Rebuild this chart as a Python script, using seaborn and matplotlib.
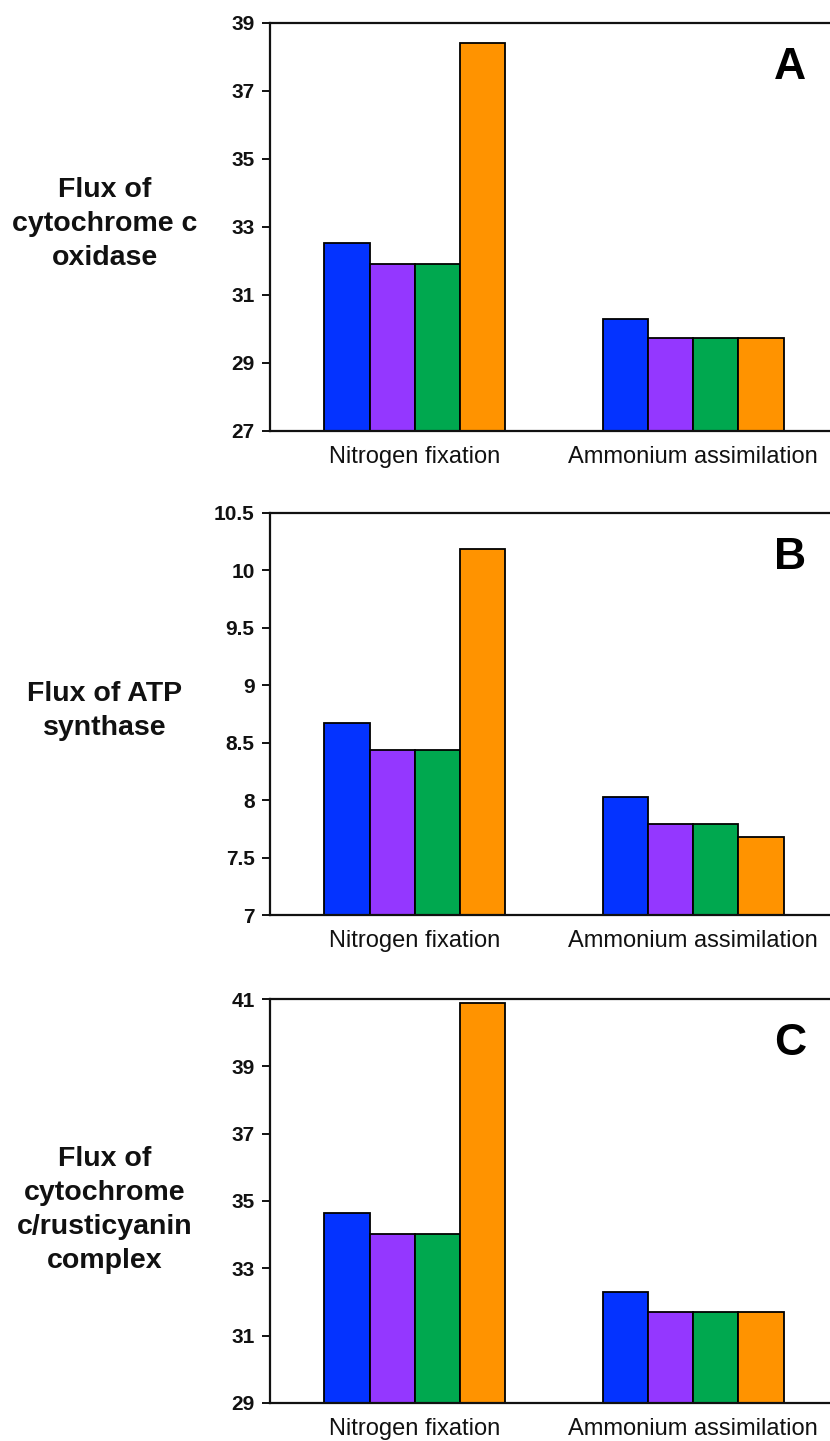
"""Flux comparison bar panels (A, B, C) for nitrogen fixation vs ammonium assimilation."""

import matplotlib

matplotlib.use("Agg")
import matplotlib.pyplot as plt
import pandas as pd
import seaborn as sns

# categories and series
conditions = ["Nitrogen fixation", "Ammonium assimilation"]
series = ["series 1", "series 2", "series 3", "series 4"]
colors = ["#0433FF", "#9437FF", "#00A84F", "#FF9300"]

# values, per condition (one per series)
cyt_oxidase = {
    "Nitrogen fixation": [32.53, 31.91, 31.91, 38.40],
    "Ammonium assimilation": [30.28, 29.73, 29.73, 29.73],
}
atp_synthase = {
    "Nitrogen fixation": [8.67, 8.44, 8.44, 10.19],
    "Ammonium assimilation": [8.03, 7.79, 7.79, 7.68],
}
cyt_rusticyanin = {
    "Nitrogen fixation": [34.63, 34.02, 34.02, 40.88],
    "Ammonium assimilation": [32.30, 31.69, 31.69, 31.69],
}

ylabels = [
    "Flux of\ncytochrome c\noxidase",
    "Flux of ATP\nsynthase",
    "Flux of\ncytochrome\nc/rusticyanin\ncomplex",
]
letters = ["A", "B", "C"]
yticks_a = [27, 29, 31, 33, 35, 37, 39]
yticks_b = [7, 7.5, 8, 8.5, 9, 9.5, 10, 10.5]
yticks_c = [29, 31, 33, 35, 37, 39, 41]
ytick_labels_b = ["7", "7.5", "8", "8.5", "9", "9.5", "10", "10.5"]


def to_long(values: dict[str, list[float]]) -> pd.DataFrame:
    rows = []
    for cond in conditions:
        for name, val in zip(series, values[cond]):
            rows.append({"condition": cond, "series": name, "flux": val})
    return pd.DataFrame(rows)


sns.set_theme(style="ticks")
plt.rcParams["font.family"] = ["Liberation Sans", "DejaVu Sans"]

W, H = 830, 1441
fig = plt.figure(figsize=(W / 100, H / 100), dpi=100)

# (top px, bottom px) of each plot area
panels = [
    (cyt_oxidase, yticks_a, [str(t) for t in yticks_a], (23, 431), 224),
    (atp_synthase, yticks_b, ytick_labels_b, (513, 915), 711),
    (cyt_rusticyanin, yticks_c, [str(t) for t in yticks_c], (999, 1403), 1210),
]
left_px, right_px = 270, 838

for i, (values, yticks, ytl, (top, bottom), label_y) in enumerate(panels):
    ax = fig.add_axes([left_px / W, 1 - bottom / H, (right_px - left_px) / W, (bottom - top) / H])
    df = to_long(values)
    sns.barplot(
        data=df, x="condition", y="flux", hue="series", order=conditions,
        hue_order=series, palette=colors, saturation=1, width=0.65, gap=0,
        edgecolor="black", linewidth=1.3, legend=False, ax=ax, errorbar=None,
    )
    ax.set_xlim(-0.52, 1.52)
    ax.set_ylim(yticks[0], yticks[-1])
    ax.set_yticks(yticks)
    ax.set_yticklabels(ytl, fontweight="bold")
    ax.set_xlabel("")
    ax.set_ylabel("")
    for side in ["left", "bottom", "top"]:
        ax.spines[side].set_linewidth(1.6)
        ax.spines[side].set_color("#111111")
    ax.spines["right"].set_visible(False)
    ax.tick_params(axis="y", length=6, width=1.4, pad=5, labelsize=15, colors="#111111")
    ax.tick_params(axis="x", length=0, pad=11, labelsize=17, colors="#111111")
    ax.text(0.915, 0.89, letters[i], transform=ax.transAxes, ha="center", va="center",
            fontsize=32, fontweight="bold", color="black")
    fig.text(105 / W, 1 - label_y / H, ylabels[i], ha="center", va="center",
             fontsize=20.5, fontweight="bold", linespacing=1.4, color="#111111")

fig.savefig("out.png", dpi=100)
